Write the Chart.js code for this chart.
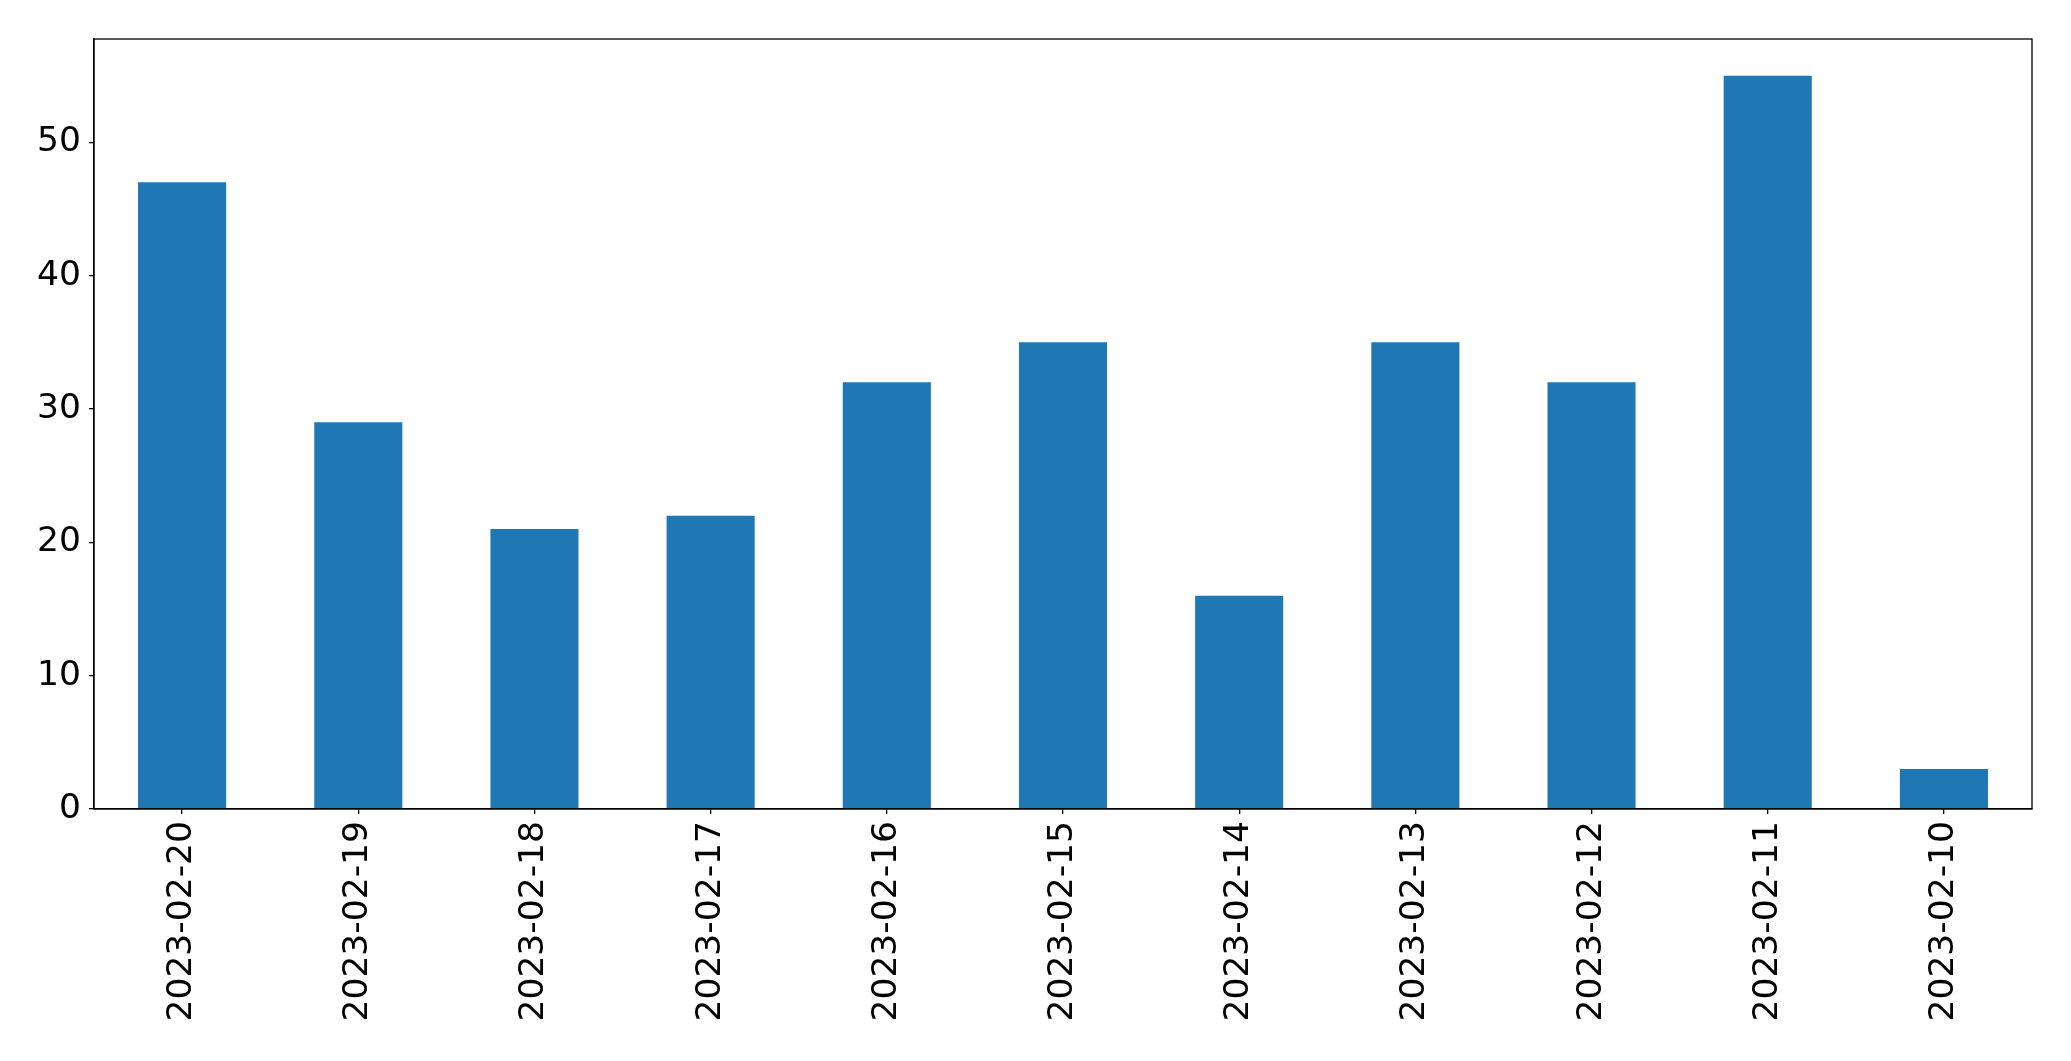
<!DOCTYPE html>
<html>
<head>
<meta charset="utf-8">
<script src="https://cdn.jsdelivr.net/npm/chart.js@4"></script>
<style>
	html, body { margin: 0; padding: 0; background: #fff; }
	canvas { display: block; }
</style>
</head>
<body>
<canvas id="chart" width="2071" height="1061"></canvas>
<script>
const dates = ['2023-02-20', '2023-02-19', '2023-02-18', '2023-02-17', '2023-02-16', '2023-02-15',
	'2023-02-14', '2023-02-13', '2023-02-12', '2023-02-11', '2023-02-10'];
const counts = [47, 29, 21, 22, 32, 35, 16, 35, 32, 55, 3];
const yTicks = [0, 10, 20, 30, 40, 50];

// draws the top and right sides of the axes box
const frameBox = {
	id: 'frameBox',
	afterDraw(chart) {
		const { ctx, chartArea: a } = chart;
		ctx.save();
		ctx.strokeStyle = '#000';
		ctx.lineWidth = 1.3;
		ctx.strokeRect(a.left, a.top, a.right - a.left, a.bottom - a.top);
		ctx.restore();
	}
};

const tickFont = { family: 'DejaVu Sans', size: 34.5 };

const config = {
	type: 'bar',
	data: {
		labels: dates,
		datasets: [{
			data: counts,
			backgroundColor: '#1f77b4',
			borderWidth: 0,
			barPercentage: 0.5,
			categoryPercentage: 1.0
		}]
	},
	options: {
		responsive: false,
		animation: false,
		layout: { padding: { top: 39, right: 39, left: 0, bottom: 0 } },
		plugins: {
			legend: { display: false },
			tooltip: { enabled: false }
		},
		scales: {
			x: {
				grid: { display: true, offset: false, drawOnChartArea: false, drawTicks: true, tickLength: 5, color: '#000', lineWidth: 1.3 },
				border: { display: true, color: '#000', width: 1.3 },
				ticks: { color: '#000', font: tickFont, minRotation: 90, maxRotation: 90, padding: 7, autoSkip: false },
				afterFit(s) { s.height = 252; }
			},
			y: {
				min: 0,
				max: 57.75,
				grid: { display: true, drawOnChartArea: false, drawTicks: true, tickLength: 5, color: '#000', lineWidth: 1.3 },
				border: { display: true, color: '#000', width: 1.3 },
				ticks: { color: '#000', font: tickFont, padding: 8 },
				afterBuildTicks(s) { s.ticks = yTicks.map(v => ({ value: v })); },
				afterFit(s) { s.width = 94; }
			}
		}
	},
	plugins: [frameBox]
};

new Chart(document.getElementById('chart'), config);
</script>
</body>
</html>
